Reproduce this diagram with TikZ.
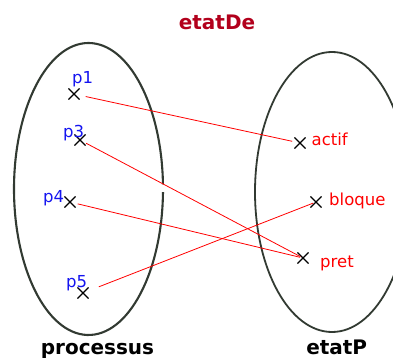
\documentclass[tikz,border=0pt]{standalone}
\usepackage{fontspec}
\setmainfont{DejaVu Sans}
\usetikzlibrary{shapes.misc}
\definecolor{setline}{RGB}{50,58,50}
\definecolor{titlered}{RGB}{178,0,28}
\definecolor{elemblue}{RGB}{20,20,240}
\definecolor{linkred}{RGB}{255,0,0}
\begin{document}
\begin{tikzpicture}[x=1pt,y=-1pt,
  setedge/.style={draw=setline,line width=2.1pt},
  elem/.style={cross out,draw=black,line width=1.1pt,minimum size=10pt,inner sep=0pt},
  plabel/.style={anchor=base west,inner sep=0pt,text=elemblue,font=\fontsize{16.5}{18}\selectfont},
  slabel/.style={anchor=base west,inner sep=0pt,text=linkred,font=\fontsize{16.5}{18}\selectfont},
  setname/.style={anchor=base,inner sep=0pt,font=\fontsize{20}{22}\selectfont\bfseries},
  link/.style={draw=linkred,line width=0.8pt}]
\useasboundingbox (0,0) rectangle (393,358);
\begin{scope}
\clip (0,0) rectangle (393,358);
% the two sets; the left outline has a small break near its rightmost point
\draw[setedge] (88.5,189) ++(1.2:74.5 and 146)
  arc[start angle=1.2,end angle=180,x radius=74.5,y radius=146]
  arc[start angle=180,end angle=358.2,x radius=74.5,y radius=146];
\draw[setedge,line width=1.8pt] (332,192) ellipse[x radius=77,y radius=140];
\end{scope}
% elements of processus
\node[elem] (p1) at (74,94) {};
\node[elem] (p3) at (80,140) {};
\node[elem] (p4) at (70,202) {};
\node[elem] (p5) at (83,293) {};
\node[plabel] (lp1) at (72,84) {p1};
\node[plabel] (lp3) at (63,138) {p3};
\node[plabel] (lp4) at (43,202) {p4};
\node[plabel] (lp5) at (66,287) {p5};
% elements of etatP
\node[elem] (actif) at (300,143) {};
\node[elem] (bloque) at (316,202) {};
\node[elem] (pret) at (303,258) {};
\node[slabel] (lactif) at (311.5,146) {actif};
\node[slabel] (lbloque) at (329,205) {bloque};
\node[slabel] (lpret) at (320,267) {pret};
% the relation
\draw[link,shorten <=12pt,shorten >=8pt] (p1.center) -- (actif.center);
\draw[link,shorten <=7pt,shorten >=3pt] (p3.center) -- (pret.center);
\draw[link,shorten <=8pt,shorten >=3pt] (p4.center) -- (pret.center);
\draw[link,shorten <=17pt,shorten >=3pt] (p5.center) -- (bloque.center);
% names
\node[setname,text=titlered] (title) at (217,30) {etatDe};
\node[setname] (nproc) at (97.5,354) {processus};
\node[setname] (netat) at (336.7,354) {etatP};
\end{tikzpicture}
\end{document}
